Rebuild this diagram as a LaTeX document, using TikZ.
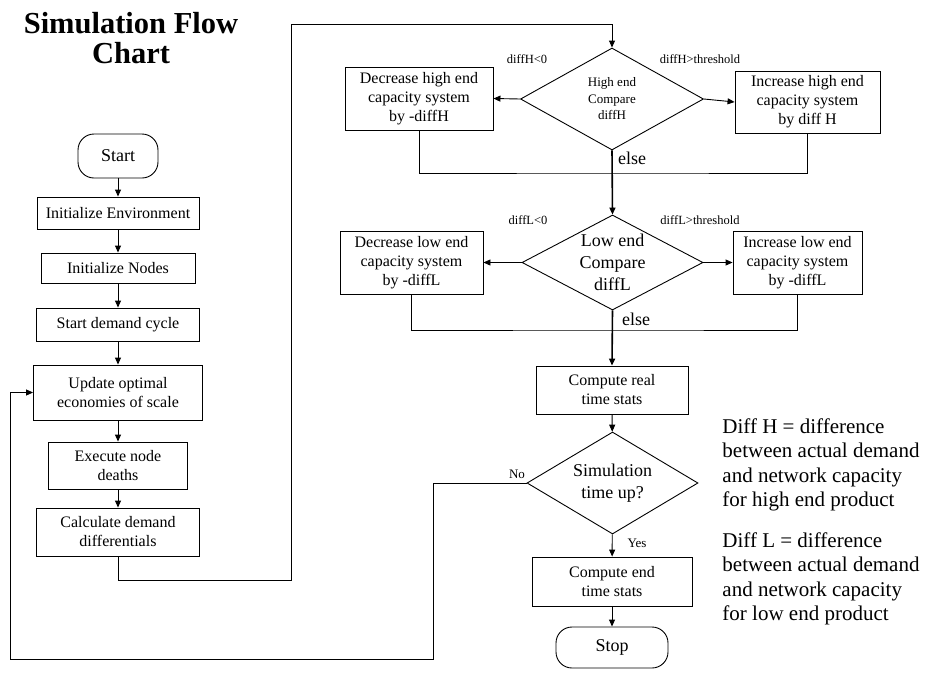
\documentclass[tikz,border=0pt]{standalone}
\usepackage{fontspec}
\setmainfont{Liberation Serif}
\usetikzlibrary{shapes.geometric,arrows.meta}

\begin{document}
\begin{tikzpicture}[x=1pt,y=-1pt,line width=0.9pt,
        >={Triangle[length=7pt,width=6pt]},
        box/.style={draw,rectangle,align=center,inner sep=2pt,font=\fontsize{16}{19}\selectfont},
        term/.style={draw,rectangle,rounded corners=16pt,font=\fontsize{18}{21}\selectfont},
        dec/.style={draw,diamond,align=center,inner sep=0pt},
        lbl/.style={inner sep=0pt,font=\fontsize{12.5}{15}\selectfont},
        note/.style={anchor=north west,align=left,inner sep=0pt,font=\fontsize{21}{24.5}\selectfont},
        spine/.style={line width=1.6pt}]
        \useasboundingbox (0,0) rectangle (926,672);
        \node[anchor=north,align=center,inner sep=0pt,font=\bfseries\fontsize{30.5}{30}\selectfont] (title) at (131,12) {Simulation Flow\\Chart};
        \node[term,minimum width=80pt,minimum height=44pt] (start) at (118,156) {Start};
        \node[box,minimum width=162pt,minimum height=32pt] (env) at (118,213) {Initialize Environment};
        \node[box,minimum width=154pt,minimum height=30pt] (nodes) at (118,268) {Initialize Nodes};
        \node[box,minimum width=163pt,minimum height=33pt] (cycle) at (118,324.5) {Start demand cycle};
        \node[box,minimum width=169pt,minimum height=55pt] (update) at (118,392.5) {Update optimal\\economies of scale};
        \node[box,minimum width=139pt,minimum height=47pt] (deaths) at (118,465.5) {Execute node\\deaths};
        \node[box,minimum width=163pt,minimum height=48pt] (calc) at (118,532) {Calculate demand\\differentials};
        \node[dec,minimum width=183pt,minimum height=102pt,shape aspect=1.8,font=\fontsize{13}{16.5}\selectfont] (high) at (612,99) {High end\\Compare\\diffH};
        \node[box,minimum width=148pt,minimum height=63pt] (decH) at (419,98.5) {Decrease high end\\capacity system\\by -diffH};
        \node[box,minimum width=145pt,minimum height=62pt] (incH) at (807.5,102) {Increase high end\\capacity system\\by diff H};
        \node[dec,minimum width=181pt,minimum height=95pt,shape aspect=1.9,font=\fontsize{18}{22}\selectfont] (low) at (612.5,262.5) {Low end\\Compare\\diffL};
        \node[box,minimum width=143pt,minimum height=63pt] (decL) at (411.5,262.5) {Decrease low end\\capacity system\\by -diffL};
        \node[box,minimum width=129pt,minimum height=63pt] (incL) at (797.5,262.5) {Increase low end\\capacity system\\by -diffL};
        \node[box,minimum width=152pt,minimum height=48pt] (real) at (612,390) {Compute real\\time stats};
        \node[dec,minimum width=171pt,minimum height=102pt,shape aspect=1.68,font=\fontsize{18}{21.5}\selectfont] (sim) at (612.5,483) {Simulation\\time up?};
        \node[box,minimum width=160pt,minimum height=49pt] (endS) at (612,581.5) {Compute end\\time stats};
        \node[term,minimum width=112pt,minimum height=41pt] (stop) at (612,647.5) {Stop};
        \node[lbl] (lH1) at (527,59) {diffH<0};
        \node[lbl] (lH2) at (700,59) {diffH>threshold};
        \node[lbl] (lL1) at (528,220) {diffL<0};
        \node[lbl] (lL2) at (700,220) {diffL>threshold};
        \node[lbl,font=\fontsize{18}{21}\selectfont] (elseH) at (632,158) {else};
        \node[lbl,font=\fontsize{18}{21}\selectfont] (elseL) at (636,319) {else};
        \node[lbl,font=\fontsize{13}{15}\selectfont] (no) at (517,474) {No};
        \node[lbl,font=\fontsize{13}{15}\selectfont] (yes) at (637,543) {Yes};
        \node[note] (noteH) at (722,418) {Diff H = difference\\between actual demand\\and network capacity\\for high end product};
        \node[note] (noteL) at (722,532) {Diff L = difference\\between actual demand\\and network capacity\\for low end product};
        \coordinate (up1) at (291,580);
        \coordinate (up2) at (291,24);
        \coordinate (jH) at (612,173);
        \coordinate (jL) at (612,330);
        \coordinate (back1) at (433,659);
        \coordinate (back2) at (10,659);
        \draw[->](start)--(env);
        \draw[->](env)--(nodes);
        \draw[->](nodes)--(cycle);
        \draw[->](cycle)--(update);
        \draw[->](update)--(deaths);
        \draw[->](deaths)--(calc);
        \draw[->](calc.south) |- (up1) -- (up2) -| (high.north);
        \draw[->](high.west)--(decH.east);
        \draw[->](high.east)--(incH.west);
        \draw(decH.south) |- (jH) -| (incH.south);
        \draw[->,spine](high.south)--(low.north);
        \draw[->](low.west)--(decL.east);
        \draw[->](low.east)--(incL.west);
        \draw(decL.south) |- (jL) -| (incL.south);
        \draw[->,spine](low.south)--(real.north);
        \draw[->](real)--(sim);
        \draw[->](sim)--(endS);
        \draw[->](endS)--(stop);
        \draw[->](sim.west) -| (back1) -- (back2) |- (update.west);
        \end{tikzpicture}
\end{document}
